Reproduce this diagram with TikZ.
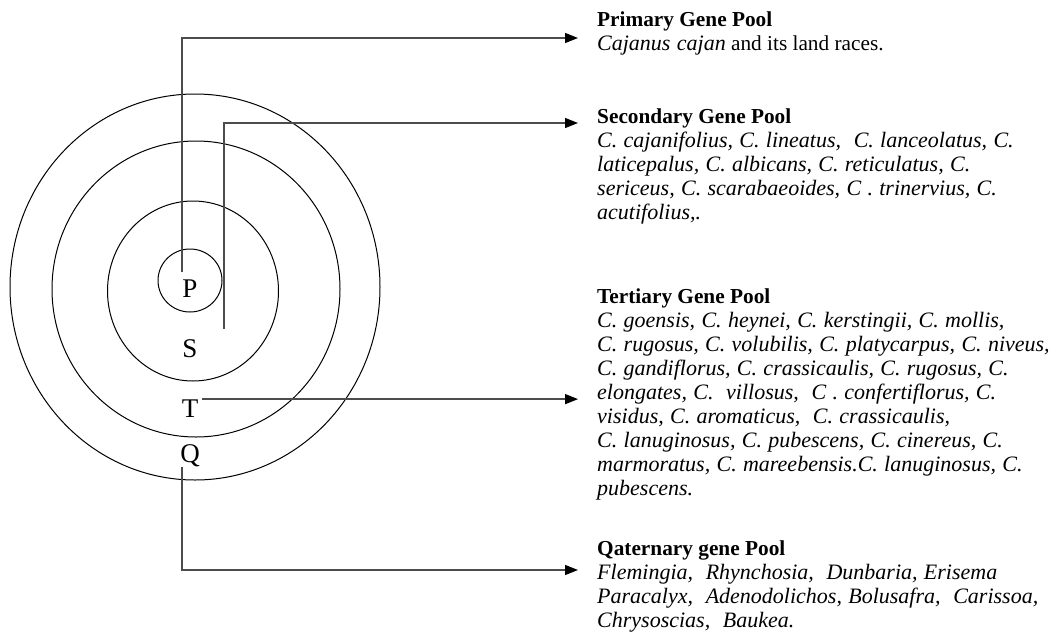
\documentclass[tikz,border=0pt]{standalone}
\usepackage{fontspec}
\setmainfont{Liberation Serif}[ItalicFeatures={WordSpace=1.15}]
\usetikzlibrary{arrows.meta}
\frenchspacing
\newcommand{\spec}[1]{{\fontsize{22}{24}\selectfont\itshape #1}}

\begin{document}
\begin{tikzpicture}[x=1pt,y=-1pt,
		ring/.style={line width=1pt},
		link/.style={line width=1.3pt, black!70, -{Triangle[length=13pt,width=10pt,black]}},
		letter/.style={inner sep=0pt, anchor=base, font=\fontsize{27}{30}\selectfont},
		pool/.style={inner sep=0pt, anchor=north west, align=left, font=\fontsize{21.3}{24}\selectfont}]
					
					\useasboundingbox (0,0) rectangle (1054,637);
					
					\draw[ring] (195,287) ellipse [x radius=185pt, y radius=193pt];
					\draw[ring] (196,289) ellipse [x radius=144pt, y radius=148pt];
					\draw[ring] (193,291) ellipse [x radius=85.5pt, y radius=90pt];
					\draw[ring] (190,280.5) ellipse [x radius=32pt, y radius=31.5pt];
					
					\node[letter] (P) at (190,297) {P};
					\node[letter] (S) at (190,357) {S};
					\node[letter] (T) at (190,417) {T};
					\node[letter] (Q) at (190,462) {Q};
					
					\node[pool] (prim) at (597,11.6) {\textbf{Primary Gene Pool}\\\spec{Cajanus cajan} and its land races.};
					\node[pool] (sec) at (597,108.6) {\textbf{Secondary Gene Pool}\\
						\spec{C. cajanifolius, C. lineatus,\ \ C. lanceolatus, C.}\\
						\spec{laticepalus, C. albicans, C. reticulatus, C.}\\
						\spec{sericeus, C. scarabaeoides, C . trinervius, C.}\\
						\spec{acutifolius,.}};
					\node[pool] (ter) at (597,288.6) {\textbf{Tertiary Gene Pool}\\
						\spec{C. goensis, C. heynei, C. kerstingii, C. mollis,}\\
						\spec{C. rugosus, C. volubilis, C. platycarpus, C. niveus,}\\
						\spec{C. gandiflorus, C. crassicaulis, C. rugosus, C.}\\
						\spec{elongates, C.\ \ villosus,\ \ C . confertiflorus, C.}\\
						\spec{visidus, C. aromaticus,\ \ C. crassicaulis,}\\
						\spec{C. lanuginosus, C. pubescens, C. cinereus, C.}\\
						\spec{marmoratus, C. mareebensis.C. lanuginosus, C.}\\
						\spec{pubescens.}};
					\node[pool] (qat) at (597,540.6) {\textbf{Qaternary gene Pool}\\
						\spec{Flemingia,\ \ Rhynchosia,\ \ Dunbaria, Erisema}\\
						\spec{Paracalyx,\ \ Adenodolichos, Bolusafra,\ \ Carissoa,}\\
						\spec{Chrysoscias,\ \ Baukea.}};
					
					\coordinate (primtip) at (578,38);
					\coordinate (sectip) at (578,123);
					\coordinate (tertip) at (578,400);
					\coordinate (qattip) at (578,570);
					\coordinate (sfoot) at (224,329);
					
					\draw[link] ([shift={(-8,-7)}]P.north) |- (primtip);
					\draw[link] (sfoot) |- (sectip);
					\draw[link] ([xshift=4pt]T.north east) -- (T.north east -| tertip);
					\draw[link] ([xshift=-8pt]Q.south) |- (qattip);
					
				\end{tikzpicture}
\end{document}
